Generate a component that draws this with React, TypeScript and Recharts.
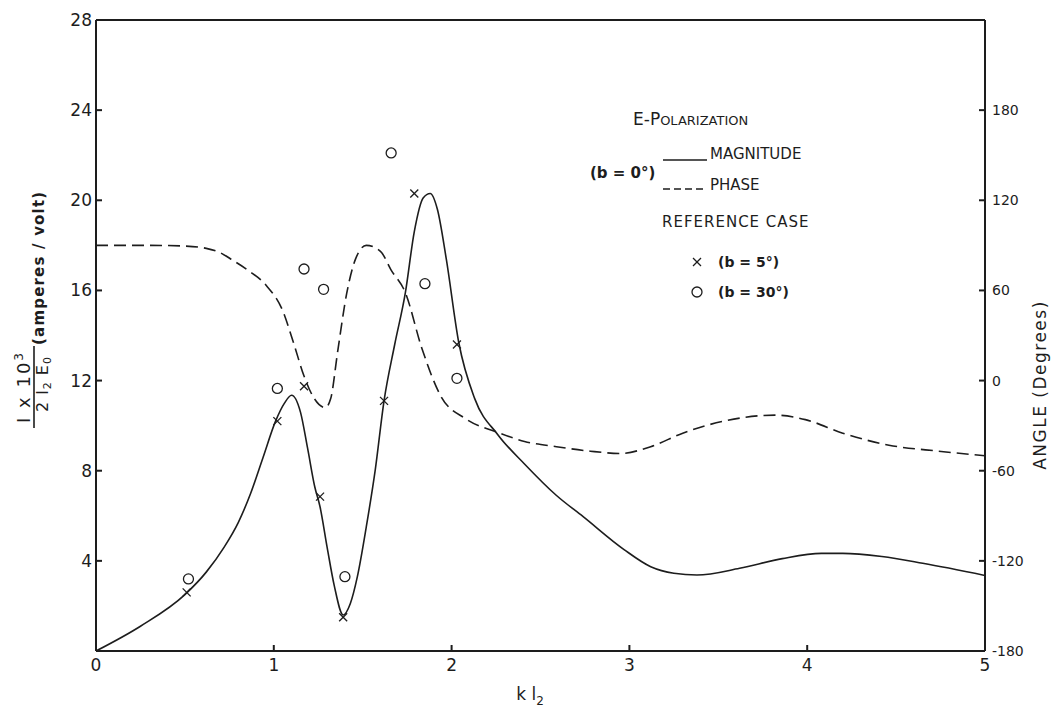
import React from 'react';
import {
  ComposedChart,
  Line,
  Scatter,
  XAxis,
  YAxis,
  ReferenceLine,
  Customized,
} from 'recharts';

// k l2 positions and |I| x 10^3 / (2 l2 E0) for the b = 0 case
const klMag = [0, 0.25, 0.5, 0.62, 0.72, 0.8, 0.87, 0.94, 1.01, 1.06, 1.1, 1.15, 1.19, 1.23, 1.26, 1.3, 1.34, 1.39, 1.43, 1.47, 1.52, 1.57, 1.62, 1.68, 1.74, 1.79, 1.84, 1.88, 1.92, 1.97, 2.04, 2.13, 2.26, 2.41, 2.59, 2.74, 2.97, 3.12, 3.25, 3.38, 3.62, 3.86, 4.08, 4.2, 4.42, 4.65, 5.0];
const magnitude = [0, 1.1, 2.5, 3.5, 4.6, 5.7, 7.0, 8.6, 10.2, 11.0, 11.35, 10.6, 9.0, 7.3, 6.4, 4.6, 2.9, 1.6, 2.1, 3.3, 5.5, 8.0, 11.1, 13.6, 15.9, 18.6, 20.1, 20.3, 19.6, 17.4, 13.7, 11.2, 9.6, 8.3, 6.9, 5.96, 4.5, 3.74, 3.45, 3.37, 3.67, 4.1, 4.33, 4.33, 4.19, 3.89, 3.35];

// phase angle in degrees (right axis)
const klPhase = [0, 0.3, 0.5, 0.62, 0.7, 0.77, 0.86, 0.96, 1.05, 1.11, 1.17, 1.22, 1.29, 1.32, 1.36, 1.41, 1.46, 1.52, 1.6, 1.66, 1.74, 1.83, 1.94, 2.08, 2.26, 2.41, 2.59, 2.78, 2.95, 3.12, 3.3, 3.53, 3.82, 3.99, 4.2, 4.46, 4.74, 5.0];
const phaseDeg = [90, 90, 89.5, 88, 85, 80, 73, 63, 46.5, 25.5, 3, -10.5, -18, -12, 20, 58, 81, 90, 86, 73.5, 58.5, 22.5, -10.5, -25.5, -34.5, -40.5, -44, -47, -48.5, -44, -35, -27, -23, -26, -35, -43, -47, -50];

// reference case points
const b5X = [0.51, 1.02, 1.17, 1.26, 1.39, 1.62, 1.79, 2.03];
const b5Y = [2.6, 10.2, 11.75, 6.85, 1.5, 11.1, 20.3, 13.6];
const b30X = [0.52, 1.02, 1.17, 1.28, 1.4, 1.66, 1.85, 2.03];
const b30Y = [3.2, 11.65, 16.95, 16.05, 3.3, 22.1, 16.3, 12.1];

const xTicks = [0, 1, 2, 3, 4, 5];
const leftTicks = [0, 4, 8, 12, 16, 20, 24, 28];
const rightTicks = [-180, -120, -60, 0, 60, 120, 180];

const magData = klMag.map((x, i) => ({ x, mag: magnitude[i] }));
const phaseData = klPhase.map((x, i) => ({ x, phase: phaseDeg[i] }));
const b5Data = b5X.map((x, i) => ({ x, y: b5Y[i] }));
const b30Data = b30X.map((x, i) => ({ x, y: b30Y[i] }));

const INK = '#1d1d1d';
const FONT = '"DejaVu Sans", sans-serif';

const Cross = (props: any) => {
  const { cx, cy } = props;
  const s = 4;
  return (
    <g stroke={INK} strokeWidth={1.3}>
      <line x1={cx - s} y1={cy - s} x2={cx + s} y2={cy + s} />
      <line x1={cx - s} y1={cy + s} x2={cx + s} y2={cy - s} />
    </g>
  );
};

const Ring = (props: any) => {
  const { cx, cy } = props;
  return <circle cx={cx} cy={cy} r={5} fill="none" stroke={INK} strokeWidth={1.3} />;
};

const Annotations = () => (
  <g fontFamily={FONT} fill={INK}>
    {/* left axis title: fraction, then units reading upwards */}
    <g transform="translate(33, 387) rotate(-90)">
      <text x={0} y={-3} textAnchor="middle" fontSize={18} letterSpacing={2}>
        I x 10<tspan dy={-7} fontSize={12}>3</tspan>
      </text>
      <line x1={-41} x2={41} y1={1} y2={1} stroke={INK} strokeWidth={1.6} />
      <text x={3} y={15} textAnchor="middle" fontSize={16} letterSpacing={1}>
        2 l<tspan dy={3} fontSize={11}>2</tspan>
        <tspan dy={-3}> E</tspan>
        <tspan dy={3} fontSize={11}>0</tspan>
      </text>
      <text x={42} y={11} fontSize={15} fontWeight="bold" letterSpacing={1.2}>(amperes / volt)</text>
    </g>
    {/* right axis title */}
    <text transform="translate(1046, 385) rotate(-90)" textAnchor="middle" fontSize={17} letterSpacing={1.5}>
      ANGLE (Degrees)
    </text>
    {/* x axis title */}
    <text x={530} y={700} textAnchor="middle" fontSize={17}>
      k l<tspan dy={5} fontSize={12}>2</tspan>
    </text>

    {/* legend */}
    <text x={633} y={125} fontSize={17}>
      E-P<tspan fontSize={13}>OLARIZATION</tspan>
    </text>
    <text x={590} y={178} fontSize={15} fontWeight="bold">(b = 0°)</text>
    <line x1={663} x2={707} y1={160} y2={160} stroke={INK} strokeWidth={1.4} />
    <text x={710} y={159} fontSize={15}>MAGNITUDE</text>
    <line x1={663} x2={707} y1={189} y2={189} stroke={INK} strokeWidth={1.4} strokeDasharray="7 4" />
    <text x={710} y={190} fontSize={15}>PHASE</text>
    <text x={662} y={227} fontSize={15} letterSpacing={1}>REFERENCE CASE</text>
    <Cross cx={697} cy={262} />
    <text x={718} y={267} fontSize={14} fontWeight="bold">(b = 5°)</text>
    <Ring cx={697} cy={292} />
    <text x={718} y={297} fontSize={14} fontWeight="bold">(b = 30°)</text>
  </g>
);

export default function App() {
  return (
    <div style={{ position: 'absolute', left: 0, top: 0, background: '#fff' }}>
      <ComposedChart
        width={1057}
        height={711}
        margin={{ top: 20, right: 0, bottom: 0, left: 0 }}
      >
        <XAxis
          dataKey="x"
          type="number"
          domain={[0, 5]}
          ticks={xTicks}
          allowDataOverflow
          height={60}
          stroke={INK}
          strokeWidth={2}
          tickSize={-6}
          tickMargin={14}
          tick={{ fill: INK, fontSize: 17, fontFamily: FONT }}
        />
        <YAxis
          yAxisId="left"
          type="number"
          domain={[0, 28]}
          ticks={leftTicks}
          width={96}
          stroke={INK}
          strokeWidth={2}
          tickSize={-6}
          tickMargin={10}
          tickFormatter={(v: number) => (v === 0 ? '' : `${v}`)}
          tick={{ fill: INK, fontSize: 17, fontFamily: FONT }}
        />
        <YAxis
          yAxisId="right"
          orientation="right"
          type="number"
          domain={[-180, 240]}
          ticks={rightTicks}
          width={72}
          stroke={INK}
          strokeWidth={2}
          tickSize={-6}
          tickMargin={13}
          tick={{ fill: INK, fontSize: 14, fontFamily: FONT }}
        />
        <ReferenceLine yAxisId="left" y={28} stroke={INK} strokeWidth={2} />
        <Line
          yAxisId="left"
          data={magData}
          dataKey="mag"
          type="monotone"
          stroke={INK}
          strokeWidth={1.6}
          dot={false}
          isAnimationActive={false}
        />
        <Line
          yAxisId="right"
          data={phaseData}
          dataKey="phase"
          type="monotone"
          stroke={INK}
          strokeWidth={1.6}
          strokeDasharray="12 6"
          dot={false}
          isAnimationActive={false}
        />
        <Scatter yAxisId="left" data={b5Data} dataKey="y" shape={<Cross />} isAnimationActive={false} />
        <Scatter yAxisId="left" data={b30Data} dataKey="y" shape={<Ring />} isAnimationActive={false} />
        <Customized component={Annotations} />
      </ComposedChart>
    </div>
  );
}
